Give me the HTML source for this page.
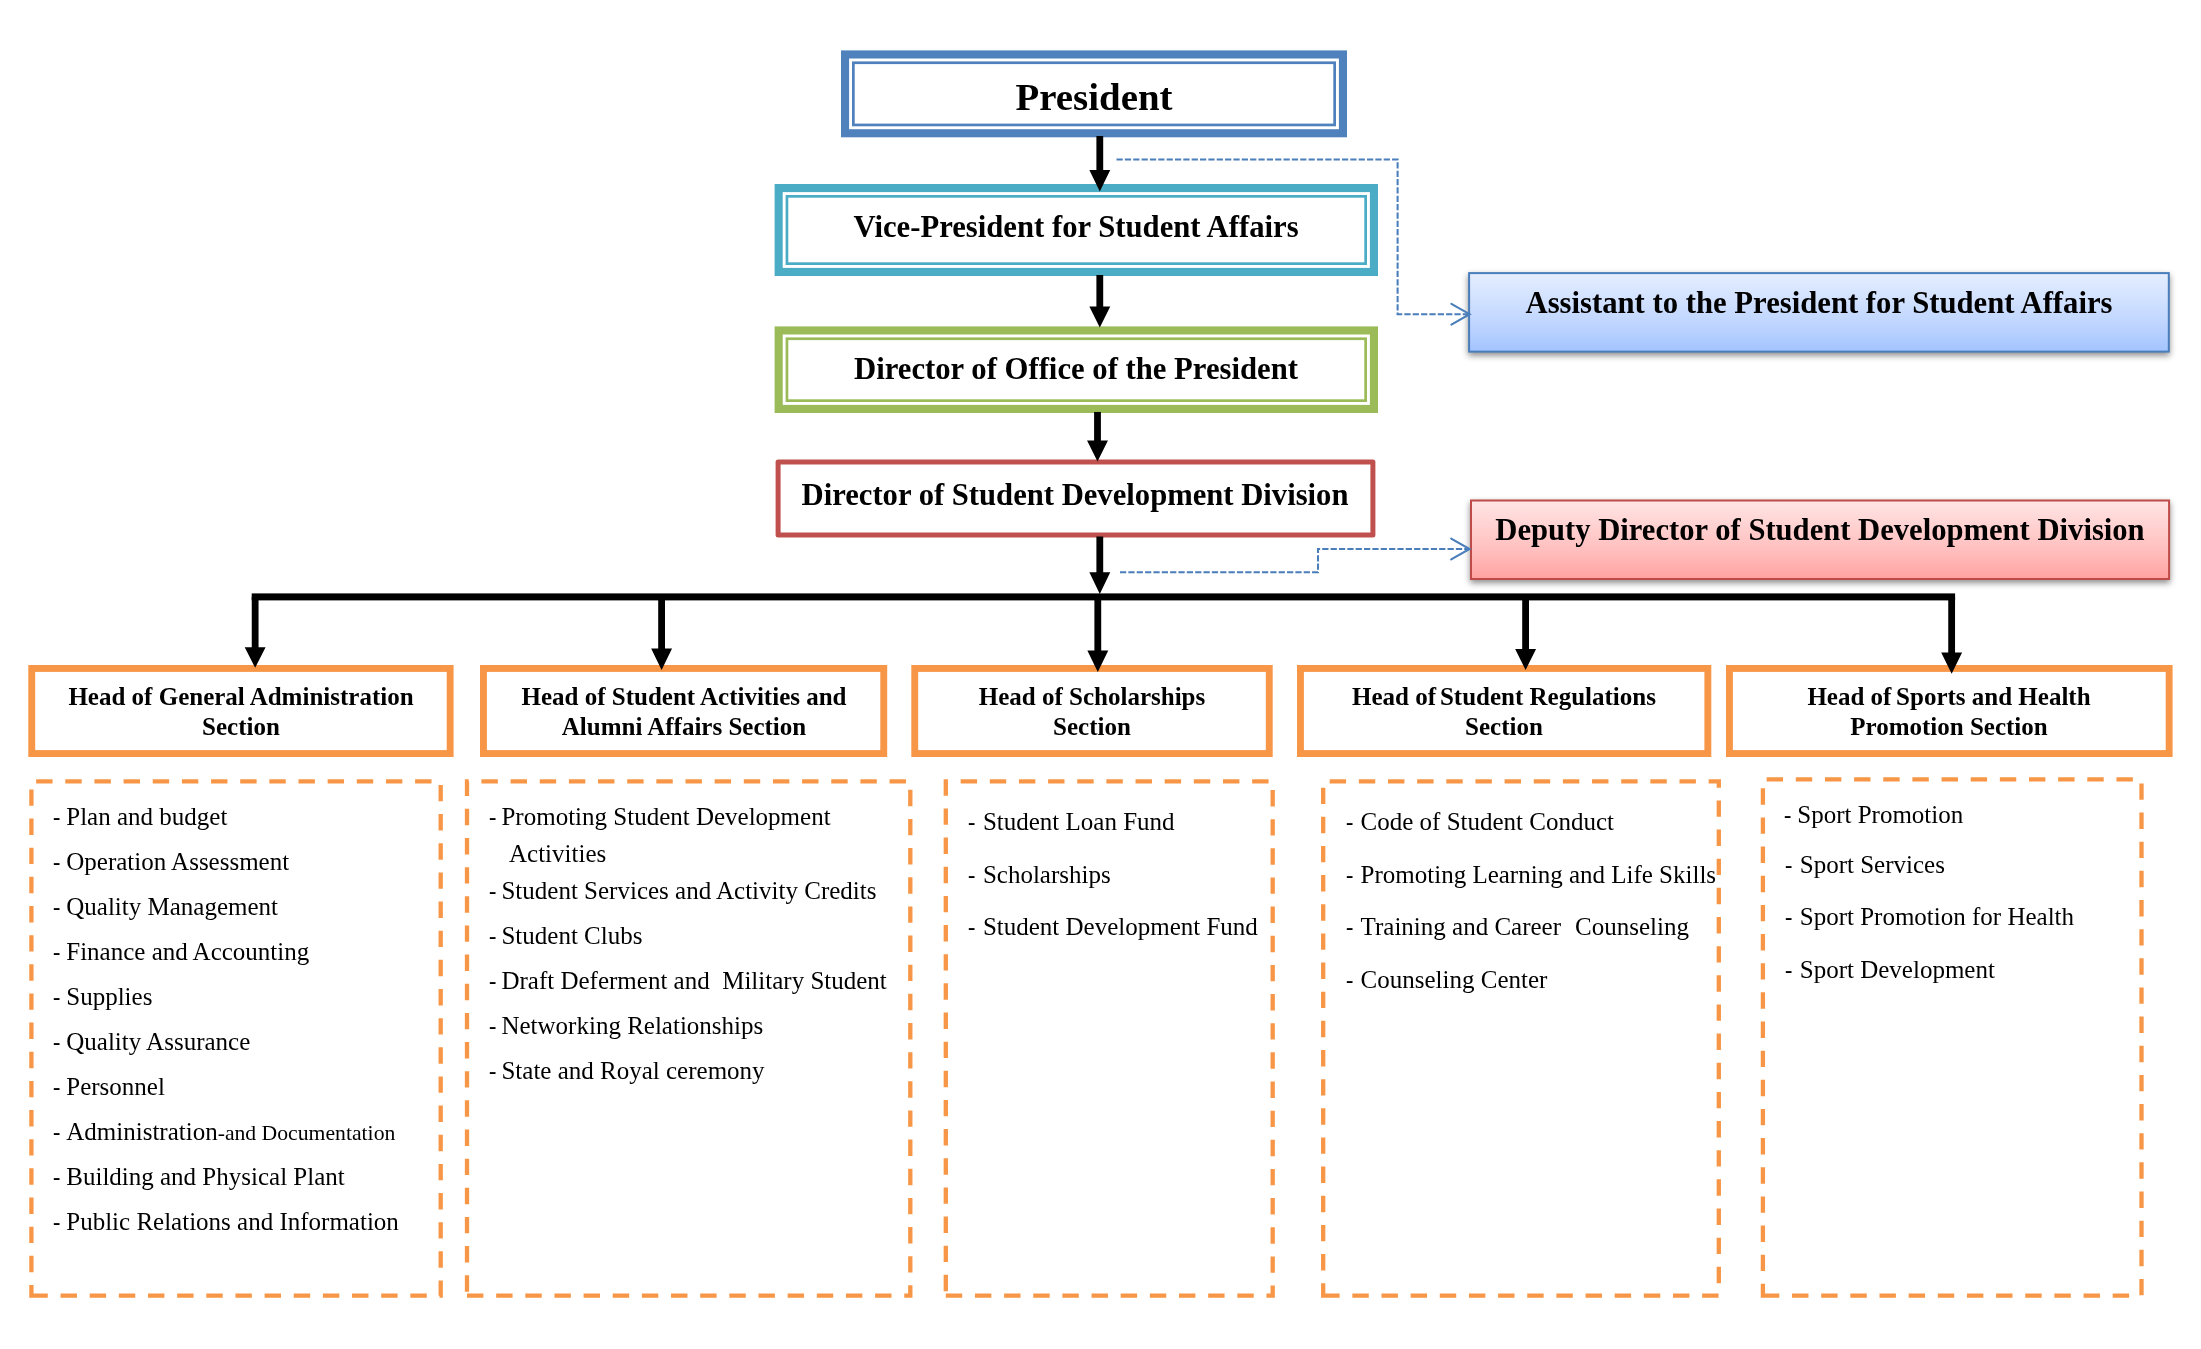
<!DOCTYPE html>
<html><head><meta charset="utf-8"><title>Organization Chart</title>
<style>
html,body{margin:0;padding:0;background:#fff;}
body{width:2201px;height:1349px;position:relative;overflow:hidden;font-family:"Liberation Serif",serif;color:#000;}
svg{position:absolute;left:0;top:0;}
.t{position:absolute;white-space:pre;will-change:transform;}
.g{position:absolute;box-sizing:border-box;}
.sh{filter:drop-shadow(0 3px 3.2px rgba(0,0,0,0.45));}
.hy{display:inline-block;}
.hy span{display:inline-block;transform:scaleX(0.88);transform-origin:1px 50%;}
</style></head><body>
<svg width="2201" height="1349" viewBox="0 0 2201 1349">
<defs><linearGradient id="gb" x1="0" y1="1" x2="0" y2="0"><stop offset="0" stop-color="#A3C4FF"/><stop offset="0.35" stop-color="#BFD5FF"/><stop offset="1" stop-color="#E5EEFF"/></linearGradient><linearGradient id="gr" x1="0" y1="1" x2="0" y2="0"><stop offset="0" stop-color="#FFA2A1"/><stop offset="0.35" stop-color="#FFBEBD"/><stop offset="1" stop-color="#FFE5E5"/></linearGradient></defs>
<rect class="sh" x="1469.10" y="273.10" width="699.70" height="78.50" fill="url(#gb)" stroke="#4A7EBB" stroke-width="2.0"/>
<rect class="sh" x="1471.00" y="500.50" width="698.10" height="78.50" fill="url(#gr)" stroke="#BE4B48" stroke-width="2.0"/>
<rect x="845.05" y="54.45" width="497.90" height="78.80" fill="#fff" stroke="#4F81BD" stroke-width="8.1"/>
<rect x="853.35" y="62.75" width="481.30" height="62.20" fill="none" stroke="#4F81BD" stroke-width="2.7"/>
<rect x="778.65" y="188.05" width="595.30" height="83.90" fill="#fff" stroke="#4BACC6" stroke-width="8.1"/>
<rect x="786.95" y="196.35" width="578.70" height="67.30" fill="none" stroke="#4BACC6" stroke-width="2.7"/>
<rect x="778.65" y="330.45" width="595.30" height="78.50" fill="#fff" stroke="#9BBB59" stroke-width="8.1"/>
<rect x="786.95" y="338.75" width="578.70" height="61.90" fill="none" stroke="#9BBB59" stroke-width="2.7"/>
<rect x="778.10" y="461.90" width="594.80" height="73.20" rx="0" fill="#fff" stroke="#C0504D" stroke-width="5" stroke-linejoin="round"/>
<rect x="31.75" y="668.45" width="418.40" height="85.10" rx="0" fill="#fff" stroke="#F79646" stroke-width="6.9" />
<rect x="483.45" y="668.45" width="400.30" height="85.10" rx="0" fill="#fff" stroke="#F79646" stroke-width="6.9" />
<rect x="914.75" y="668.45" width="354.50" height="85.10" rx="0" fill="#fff" stroke="#F79646" stroke-width="6.9" />
<rect x="1300.45" y="668.45" width="407.40" height="85.10" rx="0" fill="#fff" stroke="#F79646" stroke-width="6.9" />
<rect x="1729.45" y="668.45" width="439.70" height="85.10" rx="0" fill="#fff" stroke="#F79646" stroke-width="6.9" />
<path d="M31.40 1295.70H440.70V781.40H31.40Z" fill="none" stroke="#F79646" stroke-width="4.3" stroke-dasharray="16.4 12.75" stroke-dashoffset="0"/>
<path d="M467.00 1295.70H910.30V781.40H467.00Z" fill="none" stroke="#F79646" stroke-width="4.3" stroke-dasharray="16.4 12.75" stroke-dashoffset="0"/>
<path d="M945.80 1295.70H1272.70V781.40H945.80Z" fill="none" stroke="#F79646" stroke-width="4.3" stroke-dasharray="16.4 12.75" stroke-dashoffset="0"/>
<path d="M1323.20 1295.70H1718.80V781.40H1323.20Z" fill="none" stroke="#F79646" stroke-width="4.3" stroke-dasharray="16.4 12.75" stroke-dashoffset="0"/>
<path d="M1762.90 1295.70H2141.50V779.30H1762.90Z" fill="none" stroke="#F79646" stroke-width="4.3" stroke-dasharray="16.4 12.75" stroke-dashoffset="0"/>
<rect x="251.7" y="593.4" width="1703.4" height="7" fill="#000"/>
<path d="M1096.40 136.00H1103.20V170.10H1110.25L1099.80 191.60L1089.35 170.10H1096.40Z" fill="#000"/>
<path d="M1096.40 275.00H1103.20V306.50H1110.25L1099.80 327.40L1089.35 306.50H1096.40Z" fill="#000"/>
<path d="M1094.10 412.00H1100.90V440.40H1107.95L1097.50 461.60L1087.05 440.40H1094.10Z" fill="#000"/>
<path d="M1096.40 536.50H1103.20V572.30H1110.25L1099.80 594.00L1089.35 572.30H1096.40Z" fill="#000"/>
<path d="M251.75 597.00H258.55V647.30H265.60L255.15 667.70L244.70 647.30H251.75Z" fill="#000"/>
<path d="M658.20 597.00H665.00V648.60H672.05L661.60 670.00L651.15 648.60H658.20Z" fill="#000"/>
<path d="M1094.40 597.00H1101.20V650.40H1108.25L1097.80 672.00L1087.35 650.40H1094.40Z" fill="#000"/>
<path d="M1522.20 597.00H1529.00V649.00H1536.05L1525.60 670.00L1515.15 649.00H1522.20Z" fill="#000"/>
<path d="M1948.25 597.00H1955.05V652.50H1962.10L1951.65 673.70L1941.20 652.50H1948.25Z" fill="#000"/>
<path d="M1116.5 159.5H1397.6V314.2H1469" fill="none" stroke="#4A7EBB" stroke-width="2.05" stroke-dasharray="6.25 2.1"/>
<path d="M1451.4 303.8L1469.6 314.2L1451.4 324.6" fill="none" stroke="#4A7EBB" stroke-width="2.1" stroke-linecap="round"/>
<path d="M1120 572.2H1318V549H1469" fill="none" stroke="#4A7EBB" stroke-width="2.05" stroke-dasharray="6.25 2.1"/>
<path d="M1451.2 538.6L1469.6 549L1451.2 559.4" fill="none" stroke="#4A7EBB" stroke-width="2.1" stroke-linecap="round"/>
</svg>
<div class="t" style="top:74.23px;font-size:38.9px;line-height:46.68px;font-weight:bold;left:93.70px;width:2000px;text-align:center;">President</div>
<div class="t" style="top:209.32px;font-size:30.7px;line-height:36.84px;font-weight:bold;left:76.40px;width:2000px;text-align:center;">Vice-President for Student Affairs</div>
<div class="t" style="top:351.12px;font-size:30.7px;line-height:36.84px;font-weight:bold;left:76.00px;width:2000px;text-align:center;">Director of Office of the President</div>
<div class="t" style="top:476.57px;font-size:30.65px;line-height:36.78px;font-weight:bold;left:75.30px;width:2000px;text-align:center;">Director of Student Development Division</div>
<div class="t" style="top:285.42px;font-size:30.7px;line-height:36.84px;font-weight:bold;left:818.50px;width:2000px;text-align:center;">Assistant to the President for Student Affairs</div>
<div class="t" style="top:511.70px;font-size:30.62px;line-height:36.74px;font-weight:bold;left:820.40px;width:2000px;text-align:center;">Deputy Director of Student Development Division</div>
<div class="t" style="top:682.46px;font-size:25px;line-height:30.0px;font-weight:bold;left:-759.50px;width:2000px;text-align:center;">Head of General Administration</div>
<div class="t" style="top:711.76px;font-size:25px;line-height:30.0px;font-weight:bold;left:-759.50px;width:2000px;text-align:center;">Section</div>
<div class="t" style="top:682.46px;font-size:25px;line-height:30.0px;font-weight:bold;left:-316.30px;width:2000px;text-align:center;">Head of Student Activities and</div>
<div class="t" style="top:711.76px;font-size:25px;line-height:30.0px;font-weight:bold;left:-316.30px;width:2000px;text-align:center;">Alumni Affairs Section</div>
<div class="t" style="top:682.46px;font-size:25px;line-height:30.0px;font-weight:bold;left:92.00px;width:2000px;text-align:center;">Head of Scholarships</div>
<div class="t" style="top:711.76px;font-size:25px;line-height:30.0px;font-weight:bold;left:92.00px;width:2000px;text-align:center;">Section</div>
<div class="t" style="top:682.46px;font-size:25px;line-height:30.0px;font-weight:bold;left:504.30px;width:2000px;text-align:center;">Head of<span style="letter-spacing:-2.4px"> </span>Student Regulations</div>
<div class="t" style="top:711.76px;font-size:25px;line-height:30.0px;font-weight:bold;left:504.30px;width:2000px;text-align:center;">Section</div>
<div class="t" style="top:682.46px;font-size:25px;line-height:30.0px;font-weight:bold;left:949.45px;width:2000px;text-align:center;">Head of<span style="letter-spacing:-1.6px"> </span>Sports and Health</div>
<div class="t" style="top:711.76px;font-size:25px;line-height:30.0px;font-weight:bold;left:949.45px;width:2000px;text-align:center;">Promotion Section</div>
<div class="t" style="top:802.46px;font-size:25px;line-height:30.0px;left:52.50px;"><span class="hy" style="width:13.28px"><span>-</span></span>Plan and budget</div>
<div class="t" style="top:847.46px;font-size:25px;line-height:30.0px;left:52.50px;"><span class="hy" style="width:13.28px"><span>-</span></span>Operation Assessment</div>
<div class="t" style="top:892.46px;font-size:25px;line-height:30.0px;left:52.50px;"><span class="hy" style="width:13.28px"><span>-</span></span>Quality Management</div>
<div class="t" style="top:937.46px;font-size:25px;line-height:30.0px;left:52.50px;"><span class="hy" style="width:13.28px"><span>-</span></span>Finance and Accounting</div>
<div class="t" style="top:982.46px;font-size:25px;line-height:30.0px;left:52.50px;"><span class="hy" style="width:13.28px"><span>-</span></span>Supplies</div>
<div class="t" style="top:1027.46px;font-size:25px;line-height:30.0px;left:52.50px;"><span class="hy" style="width:13.28px"><span>-</span></span>Quality Assurance</div>
<div class="t" style="top:1072.46px;font-size:25px;line-height:30.0px;left:52.50px;"><span class="hy" style="width:13.28px"><span>-</span></span>Personnel</div>
<div class="t" style="top:1117.46px;font-size:25px;line-height:30.0px;left:52.50px;"><span class="hy" style="width:13.28px"><span>-</span></span>Administration<span style="font-size:21.7px">-and Documentation</span></div>
<div class="t" style="top:1162.46px;font-size:25px;line-height:30.0px;left:52.50px;"><span class="hy" style="width:13.28px"><span>-</span></span>Building and Physical Plant</div>
<div class="t" style="top:1207.46px;font-size:25px;line-height:30.0px;left:52.50px;"><span class="hy" style="width:13.28px"><span>-</span></span>Public Relations and Information</div>
<div class="t" style="top:802.46px;font-size:25px;line-height:30.0px;left:488.50px;"><span class="hy" style="width:12.48px"><span>-</span></span>Promoting Student Development</div>
<div class="t" style="top:839.16px;font-size:25px;line-height:30.0px;left:509.00px;">Activities</div>
<div class="t" style="top:876.46px;font-size:25px;line-height:30.0px;left:488.50px;"><span class="hy" style="width:12.48px"><span>-</span></span>Student Services and Activity Credits</div>
<div class="t" style="top:921.46px;font-size:25px;line-height:30.0px;left:488.50px;"><span class="hy" style="width:12.48px"><span>-</span></span>Student Clubs</div>
<div class="t" style="top:966.46px;font-size:25px;line-height:30.0px;left:488.50px;"><span class="hy" style="width:12.48px"><span>-</span></span>Draft Deferment and&nbsp; Military Student</div>
<div class="t" style="top:1011.46px;font-size:25px;line-height:30.0px;left:488.50px;"><span class="hy" style="width:12.48px"><span>-</span></span>Networking Relationships</div>
<div class="t" style="top:1056.46px;font-size:25px;line-height:30.0px;left:488.50px;"><span class="hy" style="width:12.48px"><span>-</span></span>State and Royal ceremony</div>
<div class="t" style="top:806.76px;font-size:25px;line-height:30.0px;left:967.90px;"><span class="hy" style="width:14.88px"><span>-</span></span>Student Loan Fund</div>
<div class="t" style="top:859.51px;font-size:25px;line-height:30.0px;left:967.90px;"><span class="hy" style="width:14.88px"><span>-</span></span>Scholarships</div>
<div class="t" style="top:912.26px;font-size:25px;line-height:30.0px;left:967.90px;"><span class="hy" style="width:14.88px"><span>-</span></span>Student Development Fund</div>
<div class="t" style="top:806.76px;font-size:25px;line-height:30.0px;left:1345.70px;"><span class="hy" style="width:14.58px"><span>-</span></span>Code of Student Conduct</div>
<div class="t" style="top:859.51px;font-size:25px;line-height:30.0px;left:1345.70px;"><span class="hy" style="width:14.58px"><span>-</span></span>Promoting Learning and Life Skills</div>
<div class="t" style="top:912.26px;font-size:25px;line-height:30.0px;left:1345.70px;"><span class="hy" style="width:14.58px"><span>-</span></span>Training and Career<span style="letter-spacing:0.8px">&nbsp; </span>Counseling</div>
<div class="t" style="top:965.01px;font-size:25px;line-height:30.0px;left:1345.70px;"><span class="hy" style="width:14.58px"><span>-</span></span>Counseling Center</div>
<div class="t" style="top:800.16px;font-size:25px;line-height:30.0px;left:1784.00px;"><span class="hy" style="width:13.28px"><span>-</span></span>Sport Promotion</div>
<div class="t" style="top:850.16px;font-size:25px;line-height:30.0px;left:1784.50px;"><span class="hy" style="width:14.78px"><span>-</span></span>Sport Services</div>
<div class="t" style="top:902.46px;font-size:25px;line-height:30.0px;left:1784.50px;"><span class="hy" style="width:14.78px"><span>-</span></span>Sport Promotion for Health</div>
<div class="t" style="top:954.76px;font-size:25px;line-height:30.0px;left:1784.50px;"><span class="hy" style="width:14.78px"><span>-</span></span>Sport Development</div>
</body></html>
